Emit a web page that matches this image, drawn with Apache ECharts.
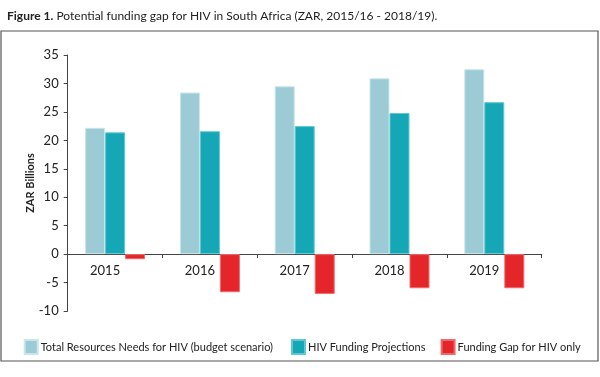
<!DOCTYPE html>
<html>
<head>
<meta charset="utf-8">
<script src="https://cdn.jsdelivr.net/npm/echarts@6/dist/echarts.min.js"></script>
<style>html,body{margin:0;padding:0;background:#fff}#c{width:600px;height:377px}</style>
</head>
<body>
<div id="c"></div>
<script>
const categories = ['2015', '2016', '2017', '2018', '2019'];
const totalNeeds = [22.2, 28.4, 29.5, 30.9, 32.5];
const fundingProjections = [21.4, 21.6, 22.5, 24.8, 26.7];
const fundingGap = [-0.9, -6.7, -7.0, -6.0, -6.0];
const seriesNames = ['Total Resources Needs for HIV (budget scenario)', 'HIV Funding Projections', 'Funding Gap for HIV only'];
const colors = ['#9ccbd5', '#16a7b6', '#e4262a'];
const borderColors = ['#c9e6eb', '#5fc8d2', '#f06a6c'];

const FONT = 'Lato';
const chart = echarts.init(document.getElementById('c'));
const legendLefts = [23.7, 291, 440.6];
chart.setOption({
  animation: false,
  textStyle: { fontFamily: FONT },
  title: {
    text: '{b|Figure 1.} Potential funding gap for HIV in South Africa (ZAR, 2015/16 - 2018/19).',
    left: 2, top: 5,
    textStyle: {
      fontFamily: FONT, fontSize: 12, fontWeight: 'normal', color: '#222',
      rich: { b: { fontFamily: FONT, fontSize: 12, fontWeight: 'bold', color: '#222' } }
    }
  },
  graphic: [{
    type: 'rect', shape: { x: 1, y: 31, width: 597, height: 330 },
    style: { fill: 'none', stroke: '#555', lineWidth: 1.2 }, silent: true, z: -1
  }],
  legend: seriesNames.map((n, i) => ({
    data: [n], left: legendLefts[i], top: 339, padding: 0, itemWidth: 13, itemHeight: 14, itemGap: 4,
    icon: 'rect', selectedMode: false,
    textStyle: { fontFamily: FONT, fontSize: 11, color: '#222', padding: [0, 0, 0, -2] }
  })),
  grid: { left: 67.7, right: 58.3, top: 55, bottom: 66, containLabel: false },
  xAxis: {
    type: 'category', data: categories,
    axisLine: { onZero: true, lineStyle: { color: '#444', width: 1 } },
    axisTick: { show: true, length: 4, inside: false, lineStyle: { color: '#444' } },
    axisLabel: { fontFamily: FONT, fontSize: 13, color: '#222', margin: -47, padding: [0, 20, 0, 0] }
  },
  yAxis: {
    type: 'value', min: -10, max: 35, interval: 5,
    name: 'ZAR Billions', nameLocation: 'middle', nameGap: 32, nameMoveOverlap: false,
    nameTextStyle: { fontFamily: FONT, fontSize: 11, fontWeight: 'bold', color: '#222' },
    axisLine: { show: true, lineStyle: { color: '#444', width: 1 } },
    axisTick: { show: true, length: 4, lineStyle: { color: '#444' } },
    splitLine: { show: false },
    axisLabel: { fontFamily: FONT, fontSize: 13, color: '#222', margin: 9 }
  },
  series: [totalNeeds, fundingProjections, fundingGap].map((d, i) => ({
    name: seriesNames[i], type: 'bar', data: d,
    barGap: '0%', barCategoryGap: '36.7%',
    itemStyle: { color: colors[i], borderColor: borderColors[i], borderWidth: 1 }
  }))
});
</script>
</body>
</html>
